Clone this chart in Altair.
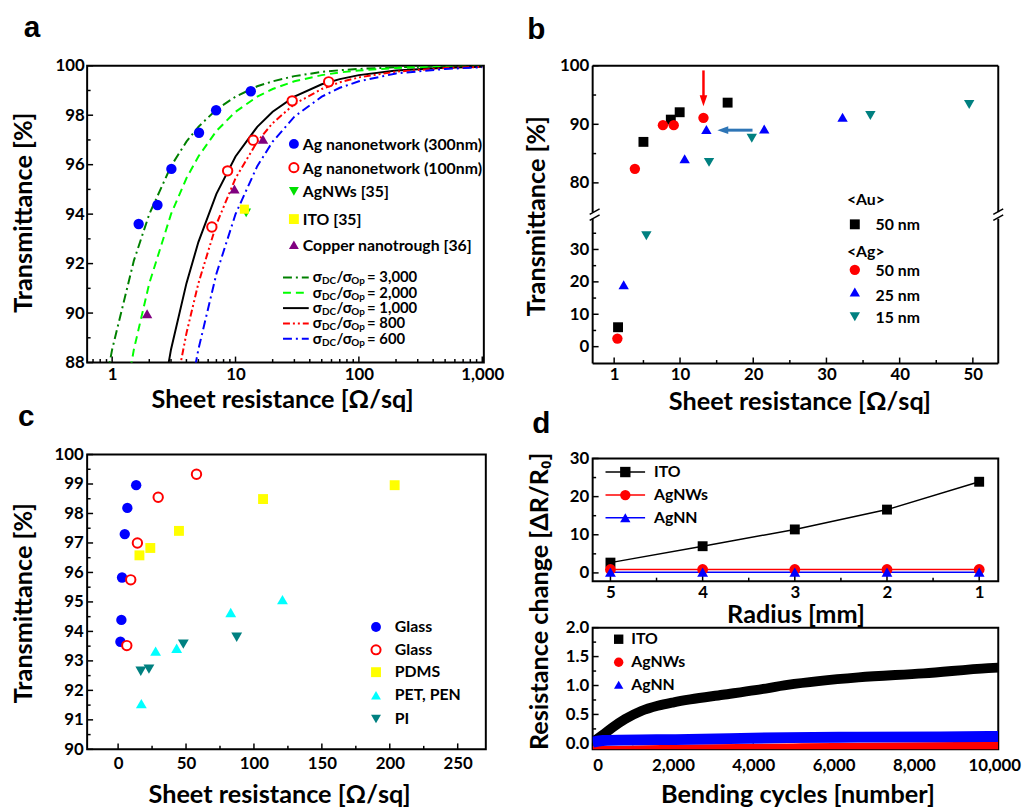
import altair as alt
import pandas as pd

FONT = "Lato"
LETTER_FONT = "Liberation Sans"
TICK_FS = 17
TITLE_FS = 25.5
LEG_FS = 16
MAJOR = 6
MINOR = 3.5

# ---------------- panel a ----------------
a_ag300_rs = [1.64, 2.33, 3.02, 5.06, 6.96, 13.3]
a_ag300_t = [93.6, 94.37, 95.83, 97.29, 98.2, 98.97]
a_ag100_rs = [6.43, 8.63, 13.9, 28.8, 56.9]
a_ag100_t = [93.48, 95.75, 96.99, 98.58, 99.35]
a_agnw_rs = [12.2]
a_agnw_t = [94.05]
a_ito_rs = [11.8]
a_ito_t = [94.2]
a_cu_rs = [1.92, 9.8, 16.7]
a_cu_t = [89.97, 95.02, 97.03]

fit_rs = [0.8, 1, 1.5, 2, 3, 4, 5, 7, 10, 15, 20, 30, 50, 70, 100, 200, 500, 1000]
fit_3000 = [85.97, 88.53, 92.12, 94.00, 95.94, 96.93, 97.53, 98.23, 98.75, 99.17, 99.37, 99.58, 99.75, 99.82, 99.87, 99.94, 99.97, 99.99]
fit_2000 = [80.03, 83.52, 88.53, 91.20, 94.00, 95.45, 96.33, 97.36, 98.14, 98.75, 99.06, 99.37, 99.62, 99.73, 99.81, 99.91, 99.96, 99.98]
fit_1000 = [65.5, 70.8, 78.9, 83.52, 88.53, 91.20, 92.87, 94.82, 96.33, 97.53, 98.14, 98.75, 99.25, 99.46, 99.62, 99.81, 99.92, 99.96]
fit_800 = [59.7, 65.5, 74.7, 80.03, 85.97, 89.18, 91.20, 93.59, 95.45, 96.93, 97.68, 98.45, 99.06, 99.33, 99.53, 99.76, 99.91, 99.95]
fit_600 = [51.6, 57.9, 68.4, 74.7, 81.94, 85.97, 88.53, 91.59, 94.00, 95.94, 96.93, 97.94, 98.75, 99.11, 99.37, 99.69, 99.87, 99.94]
fit_ratio_labels = ["= 3,000", "= 2,000", "= 1,000", "= 800", "= 600"]

# ---------------- panel b ----------------
b_au50_rs = [1.53, 5.0, 8.74, 9.95, 16.5]
b_au50_t = [6.0, 87.0, 90.8, 92.06, 93.7]
b_ag50_rs = [1.44, 3.83, 7.66, 9.14, 13.2]
b_ag50_t = [2.5, 82.4, 89.86, 89.86, 91.1]
b_ag25_rs = [2.3, 10.63, 13.6, 21.5, 32.2]
b_ag25_t = [19.1, 84.1, 89.1, 89.2, 91.2]
b_ag15_rs = [5.4, 13.96, 19.8, 36.0, 49.5]
b_ag15_t = [34.2, 83.5, 87.6, 91.5, 93.4]
b_red_arrow_x = [13.2]
b_red_arrow_y = [99.2, 94.4, 93.1]      # start, shaft end, tip
b_blue_arrow_y = [89.0]
b_blue_arrow_x = [19.9, 16.2, 15.1]     # start, shaft end, tip

# ---------------- panel c ----------------
c_glass_rs = [1.7, 2.4, 2.9, 4.9, 6.8, 13.3]
c_glass_t = [93.65, 94.39, 95.83, 97.30, 98.19, 98.96]
c_glass2_rs = [6.4, 9.3, 14.2, 29.5, 57.7]
c_glass2_t = [93.52, 95.75, 97.0, 98.55, 99.33]
c_pdms_rs = [15.7, 23.7, 44.8, 106.7, 203.6]
c_pdms_t = [96.58, 96.83, 97.41, 98.49, 98.96]
c_pet_rs = [17.1, 27.6, 43.1, 82.9, 121.0]
c_pet_t = [91.55, 93.33, 93.43, 94.64, 95.08]
c_pi_rs = [16.7, 22.7, 48.0, 87.3]
c_pi_t = [92.65, 92.72, 93.57, 93.80]

# ---------------- panel d ----------------
d_radius = [5, 4, 3, 2, 1]
d_ito_r = [2.7, 7.0, 11.4, 16.6, 23.9]
d_agnw_r = [0.9, 0.9, 0.9, 0.9, 0.9]
d_agnn_r = [0.2, 0.2, 0.2, 0.2, 0.2]

d_ito_cyc = [0, 240, 485, 810, 1210, 1620, 2020, 2430, 3240, 4050, 4850, 6620, 8240, 9850, 10100]
d_ito_dr = [0.02, 0.14, 0.27, 0.42, 0.56, 0.65, 0.71, 0.76, 0.84, 0.92, 1.01, 1.14, 1.21, 1.30, 1.31]
d_agnw_cyc = [0, 800, 2400, 5000, 9850, 10100]
d_agnw_dr = [-0.13, -0.126, -0.106, -0.086, -0.056, -0.055]
d_agnn_cyc = [0, 250, 2400, 4850, 6600, 9850, 10100]
d_agnn_dr = [0.02, 0.05, 0.07, 0.10, 0.108, 0.118, 0.12]

ONE = pd.DataFrame({"k": [0]})


def txt(s, x, y, size=LEG_FS, align="left", baseline="middle", angle=0, font=FONT):
    return alt.Chart(ONE).mark_text(
        text=s, font=font, fontSize=size, fontWeight="bold", color="black",
        align=align, baseline=baseline, angle=angle
    ).encode(x=alt.value(x), y=alt.value(y))


def letter(s, x, y):
    return txt(s, x, y, size=30, baseline="alphabetic", font=LETTER_FONT)


def sym(x, y, shape, color, size=100, fill=None, sw=2):
    kw = dict(shape=shape, size=size, opacity=1, filled=True)
    if fill is None:
        kw["color"] = color
    else:
        kw.update(fill=fill, stroke=color, strokeWidth=sw)
    return alt.Chart(ONE).mark_point(**kw).encode(x=alt.value(x), y=alt.value(y))


def seg(x1, x2, y1, y2, color="black", width=2, dash=None):
    kw = dict(color=color, strokeWidth=width)
    if dash:
        kw["strokeDash"] = dash
    return alt.Chart(ONE).mark_rule(**kw).encode(
        x=alt.value(x1), x2=alt.value(x2), y=alt.value(y1), y2=alt.value(y2))


class Panel:
    """Holds the shared scales and axes of one panel so every layer uses identical specs."""

    def __init__(self, sx, sy, axx, axy, H):
        self.sx, self.sy, self.axx, self.axy, self.H = sx, sy, axx, axy, H

    def X(self, f):
        return alt.X(f, type="quantitative", scale=self.sx, axis=self.axx)

    def Y(self, f):
        return alt.Y(f, type="quantitative", scale=self.sy, axis=self.axy)

    def pts(self, xs, ys, shape, color, size=100, fill=None, sw=2):
        kw = dict(shape=shape, size=size, opacity=1, filled=True)
        if fill is None:
            kw["color"] = color
        else:
            kw.update(fill=fill, stroke=color, strokeWidth=sw)
        df = pd.DataFrame({"x": xs, "y": ys})
        return alt.Chart(df).mark_point(**kw).encode(x=self.X("x"), y=self.Y("y"))

    def line(self, xs, ys, color, width=2, dash=None, interp="linear"):
        kw = dict(color=color, strokeWidth=width, clip=True, interpolate=interp)
        if dash:
            kw["strokeDash"] = dash
        df = pd.DataFrame({"x": xs, "y": ys})
        return alt.Chart(df).mark_line(**kw).encode(x=self.X("x"), y=self.Y("y"))

    def ticks_x(self, vals, length):
        return alt.Chart(pd.DataFrame({"v": vals})).mark_rule(color="black", strokeWidth=1.5).encode(
            x=self.X("v"), y=alt.value(self.H), y2=alt.value(self.H - length))

    def ticks_y(self, vals, length):
        return alt.Chart(pd.DataFrame({"v": vals})).mark_rule(color="black", strokeWidth=1.5).encode(
            y=self.Y("v"), x=alt.value(0), x2=alt.value(length))


def ax_x(values, title, pad, ty, tx=None, fmt=None):
    kw = dict(values=values, title=title, labelPadding=pad, titleY=ty,
              titleBaseline="middle", labelOverlap=False)
    if tx is not None:
        kw["titleX"] = tx
    if fmt:
        kw["format"] = fmt
    return alt.Axis(**kw)


def ax_y(values, title, tx=0, ty=0, pad=4, fmt=None):
    kw = dict(values=values, labelPadding=pad, labelOverlap=False)
    if title:
        kw.update(title=title, titleX=tx, titleY=ty, titleAngle=270,
                  titleBaseline="middle", titleAlign="center")
    else:
        kw["title"] = None
    if fmt:
        kw["format"] = fmt
    return alt.Axis(**kw)


# ======================= panel a =======================
WA, HA = 401, 300
pa = Panel(
    alt.Scale(type="log", domain=[0.627, 1030], nice=False),
    alt.Scale(domain=[88, 100], nice=False, zero=False),
    ax_x([1, 10, 100, 1000], "Sheet resistance [Ω/sq]", 4, 37.5, tx=197, fmt=","),
    ax_y(list(range(88, 101, 2)), "Transmittance [%]", -64, 148, pad=3),
    HA,
)
a_minor_x = [0.7, 0.8, 0.9] + [k for k in range(2, 10)] + [10 * k for k in range(2, 10)] + [100 * k for k in range(2, 10)]
la = [
    pa.ticks_x([1, 10, 100, 1000], MAJOR),
    pa.ticks_x(a_minor_x, MINOR),
    pa.ticks_y(list(range(88, 101, 2)), MAJOR),
    pa.ticks_y(list(range(89, 100, 2)), MINOR),
]
fit_styles = [
    (fit_3000, "#008000", [9, 4, 2, 4]),
    (fit_2000, "#00FF00", [8, 5]),
    (fit_1000, "black", None),
    (fit_800, "#FF0000", [7, 3, 2, 3, 2, 3]),
    (fit_600, "#0000FF", [9, 4, 2, 4]),
]
for ys, col, dash in fit_styles:
    la.append(pa.line(fit_rs, ys, col, width=2, dash=dash))
la += [
    pa.pts(a_ag300_rs, a_ag300_t, "circle", "#0000FF", size=110),
    pa.pts(a_ag100_rs, a_ag100_t, "circle", "#FF0000", size=90, fill="white", sw=2),
    pa.pts(a_agnw_rs, a_agnw_t, "triangle-down", "#00E000", size=100),
    pa.pts(a_ito_rs, a_ito_t, "square", "#FFFF00", size=85),
    pa.pts(a_cu_rs, a_cu_t, "triangle-up", "#800080", size=110),
]
a_leg = [
    ("circle", "#0000FF", None, "Ag nanonetwork (300nm)", 79),
    ("circle", "#FF0000", "white", "Ag nanonetwork (100nm)", 103),
    ("triangle-down", "#00E000", None, "AgNWs [35]", 127),
    ("square", "#FFFF00", None, "ITO [35]", 155),
    ("triangle-up", "#800080", None, "Copper nanotrough [36]", 181),
]
for shp, col, fill, lab, yy in a_leg:
    la.append(sym(209, yy, shp, col, size=100 if fill is None else 85, fill=fill))
    la.append(txt(lab, 218, yy + 1))
for i, (ys, col, dash) in enumerate(fit_styles):
    yy = 214 + i * 15.5
    la.append(seg(198, 224, yy, yy, col, 2, dash))
    la.append(txt("σ", 228, yy, size=15))
    la.append(txt("DC", 237.5, yy + 4, size=10))
    la.append(txt("/σ", 252, yy, size=15))
    la.append(txt("Op", 267, yy + 4, size=10))
    la.append(txt(fit_ratio_labels[i], 283, yy, size=15))
la.append(letter("a", -64, -29))
chart_a = alt.layer(*la).properties(width=WA, height=HA)

# ======================= panel b =======================
WB, HB = 410, 301
YB_GAP_TOP, YB_GAP_BOT = 148, 154.6
pb = Panel(
    alt.Scale(domain=[-1.937, 53.47], nice=False, zero=False),
    alt.Scale(domain=[-5.2, 39.5, 75, 100], range=[HB, YB_GAP_BOT, YB_GAP_TOP, 0], nice=False, zero=False),
    ax_x([1, 10, 20, 30, 40, 50], "Sheet resistance [Ω/sq]", 3.5, 38.5, tx=209),
    ax_y([0, 10, 20, 30, 80, 90, 100], "Transmittance [%]", -57, 151.5, pad=4),
    HB,
)
lb = [
    pb.ticks_x([1, 10, 20, 30, 40, 50], MAJOR),
    pb.ticks_x([5, 15, 25, 35, 45], MINOR),
    pb.ticks_y([0, 10, 20, 30, 80, 90, 100], MAJOR),
    pb.ticks_y([5, 15, 25, 35, 85, 95], MINOR),
    # frame with broken axis
    seg(0, WB, 0, 0), seg(0, WB, HB, HB),
    seg(0, 0, 0, YB_GAP_TOP), seg(0, 0, YB_GAP_BOT, HB),
    seg(WB, WB, 0, YB_GAP_TOP), seg(WB, WB, YB_GAP_BOT, HB),
    seg(-3, 7, 150.3, 144.7, width=1.5), seg(-3, 7, 156.3, 150.7, width=1.5),
    seg(WB - 5, WB + 5, 150.3, 144.7, width=1.5), seg(WB - 5, WB + 5, 156.3, 150.7, width=1.5),
    pb.pts(b_au50_rs, b_au50_t, "square", "black", size=100),
    pb.pts(b_ag50_rs, b_ag50_t, "circle", "#FF0000", size=110),
    pb.pts(b_ag25_rs, b_ag25_t, "triangle-up", "#0000FF", size=110),
    pb.pts(b_ag15_rs, b_ag15_t, "triangle-down", "#008080", size=110),
]
red_shaft = pd.DataFrame({"x": b_red_arrow_x, "y": [b_red_arrow_y[0]], "y2": [b_red_arrow_y[1]]})
lb.append(alt.Chart(red_shaft).mark_rule(color="#FF0000", strokeWidth=2.5).encode(
    x=pb.X("x"), y=pb.Y("y"), y2="y2:Q"))
lb.append(pb.pts(b_red_arrow_x, [b_red_arrow_y[2]], "M-0.7,-2L0.7,-2L0,0Z", "#FF0000", size=121))
blue_shaft = pd.DataFrame({"x": [b_blue_arrow_x[0]], "x2": [b_blue_arrow_x[1]], "y": b_blue_arrow_y})
lb.append(alt.Chart(blue_shaft).mark_rule(color="#2E75B6", strokeWidth=3).encode(
    x=pb.X("x"), x2="x2:Q", y=pb.Y("y")))
lb.append(pb.pts([b_blue_arrow_x[2]], b_blue_arrow_y, "M2,-0.7L2,0.7L0,0Z", "#2E75B6", size=121))
lb += [
    txt("<Au>", 257, 136),
    sym(265, 160.3, "square", "black", size=100), txt("50 nm", 286, 161),
    txt("<Ag>", 257, 188.7),
    sym(265, 206.3, "circle", "#FF0000", size=110), txt("50 nm", 286, 208),
    sym(265, 228.7, "triangle-up", "#0000FF", size=110), txt("25 nm", 286, 233),
    sym(265, 253.7, "triangle-down", "#008080", size=110), txt("15 nm", 286, 255.3),
    letter("b", -66, -27),
]
chart_b = alt.layer(*lb).properties(width=WB, height=HB, view=alt.ViewBackground(stroke="transparent"))

# ======================= panel c =======================
WC, HC = 403, 298
pc = Panel(
    alt.Scale(domain=[-22.8, 270.7], nice=False, zero=False),
    alt.Scale(domain=[90, 100], nice=False, zero=False),
    ax_x([0, 50, 100, 150, 200, 250], "Sheet resistance [Ω/sq]", 6, 46, tx=194),
    ax_y(list(range(90, 101)), "Transmittance [%]", -64, 149.7, pad=4),
    HC,
)
lc = [
    pc.ticks_x([0, 50, 100, 150, 200, 250], MAJOR),
    pc.ticks_x([25, 75, 125, 175, 225], MINOR),
    pc.ticks_y(list(range(90, 101)), MAJOR),
    pc.ticks_y([v + 0.5 for v in range(90, 100)], MINOR),
    pc.pts(c_glass_rs, c_glass_t, "circle", "#0000FF", size=110),
    pc.pts(c_glass2_rs, c_glass2_t, "circle", "#FF0000", size=90, fill="white", sw=2),
    pc.pts(c_pdms_rs, c_pdms_t, "square", "#FFFF00", size=100),
    pc.pts(c_pet_rs, c_pet_t, "triangle-up", "#00FFFF", size=120),
    pc.pts(c_pi_rs, c_pi_t, "triangle-down", "#008080", size=120),
]
c_leg = [
    ("circle", "#0000FF", None, "Glass", 174.4),
    ("circle", "#FF0000", "white", "Glass", 197.4),
    ("square", "#FFFF00", None, "PDMS", 220),
    ("triangle-up", "#00FFFF", None, "PET, PEN", 243.4),
    ("triangle-down", "#008080", None, "PI", 267.4),
]
for shp, col, fill, lab, yy in c_leg:
    lc.append(sym(292, yy, shp, col, size=100 if fill is None else 85, fill=fill))
    lc.append(txt(lab, 311, yy))
lc.append(letter("c", -70, -29.3))
chart_c = alt.layer(*lc).properties(width=WC, height=HC)

# ======================= panel d (top) =======================
WD, HDT, HDB = 410, 124, 123
pdt = Panel(
    alt.Scale(domain=[0.793, 5.193], reverse=True, nice=False, zero=False),
    alt.Scale(domain=[-2.16, 30], nice=False, zero=False),
    ax_x([5, 4, 3, 2, 1], "Radius [mm]", 3.5, 34),
    ax_y([0, 10, 20, 30], None, pad=4),
    HDT,
)
ldt = [
    pdt.ticks_x([5, 4, 3, 2, 1], MAJOR),
    pdt.ticks_x([4.5, 3.5, 2.5, 1.5], MINOR),
    pdt.ticks_y([0, 10, 20, 30], MAJOR),
    pdt.ticks_y([5, 15, 25], MINOR),
    pdt.line(d_radius, d_ito_r, "black", width=1.5),
    pdt.line(d_radius, d_agnw_r, "#FF0000", width=1.5),
    pdt.line(d_radius, d_agnn_r, "#0000FF", width=1.5),
    pdt.pts(d_radius, d_ito_r, "square", "black", size=100),
    pdt.pts(d_radius, d_agnw_r, "circle", "#FF0000", size=120),
    pdt.pts(d_radius, d_agnn_r, "triangle-up", "#0000FF", size=120),
]
dt_leg = [("square", "black", "ITO", 13.7), ("circle", "#FF0000", "AgNWs", 37),
          ("triangle-up", "#0000FF", "AgNN", 60)]
for shp, col, lab, yy in dt_leg:
    ldt.append(seg(13, 53, yy, yy, col, 1.5))
    ldt.append(sym(33, yy, shp, col, size=110))
    ldt.append(txt(lab, 62, yy))
ldt.append(letter("d", -61, -25.6))
chart_dt = alt.layer(*ldt).properties(width=WD, height=HDT)

# ======================= panel d (bottom) =======================
cyc_major = [0, 2000, 4000, 6000, 8000, 10000]
pdb = Panel(
    alt.Scale(domain=[0, 10100], nice=False, zero=False),
    alt.Scale(domain=[-0.103, 2.0], nice=False, zero=False),
    ax_x(cyc_major, "Bending cycles [number]", 8, 46, tx=207, fmt=",d"),
    ax_y([0, 0.5, 1.0, 1.5, 2.0], None, pad=4, fmt=".1f"),
    HDB,
)
ldb = [
    pdb.ticks_x(cyc_major, MAJOR),
    pdb.ticks_x([1000, 3000, 5000, 7000, 9000], MINOR),
    pdb.ticks_y([0, 0.5, 1.0, 1.5, 2.0], MAJOR),
    pdb.ticks_y([0.25, 0.75, 1.25, 1.75], MINOR),
    pdb.line(d_ito_cyc, d_ito_dr, "black", width=10, interp="monotone"),
    pdb.line(d_agnw_cyc, d_agnw_dr, "#FF0000", width=10, interp="monotone"),
    pdb.line(d_agnn_cyc, d_agnn_dr, "#0000FF", width=11, interp="monotone"),
]
db_leg = [("square", "black", "ITO", 11.7), ("circle", "#FF0000", "AgNWs", 35),
          ("triangle-up", "#0000FF", "AgNN", 57.7)]
for shp, col, lab, yy in db_leg:
    ldb.append(sym(26.3, yy, shp, col, size=90))
    ldb.append(txt(lab, 39, yy))
ldb.append(txt("Resistance change [ΔR/R₀]", -53, -26.6, size=TITLE_FS, align="center", angle=270))
chart_db = alt.layer(*ldb).properties(width=WD, height=HDB)

# ======================= layout =======================
col_a = alt.vconcat(chart_a, chart_c, spacing=93, bounds="flush")
col_d = alt.vconcat(chart_dt, chart_db, spacing=47, bounds="flush")
col_b = alt.vconcat(chart_b, col_d, spacing=96, bounds="flush")

chart = alt.hconcat(col_a, col_b, spacing=18).properties(
    padding={"left": 3, "top": 0, "right": 0, "bottom": 0}
).configure_view(
    stroke="black", strokeWidth=2
).configure_axis(
    ticks=False, domain=False, grid=False,
    labelFont=FONT, labelFontSize=TICK_FS, labelFontWeight="bold", labelColor="black",
    titleFont=FONT, titleFontSize=TITLE_FS, titleFontWeight="bold", titleColor="black",
)

chart.save("out.html", embed_options={"renderer": "svg", "actions": False})
